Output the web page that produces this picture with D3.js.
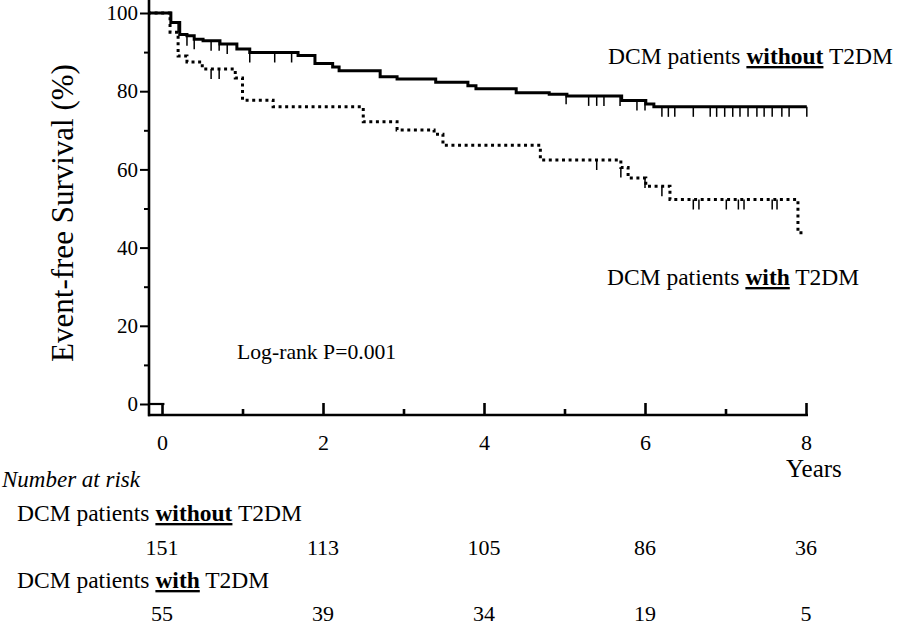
<!DOCTYPE html>
<html>
<head>
<meta charset="utf-8">
<script src="https://cdn.jsdelivr.net/npm/d3@7"></script>
<style>
  html, body { margin: 0; padding: 0; background: #fff; }
  svg { display: block; font-family: "Liberation Serif", "Times New Roman", serif; }
  text { fill: #000; }
</style>
</head>
<body>
<svg id="chart" width="898" height="628"></svg>
<script>
// ---------------- data ----------------
const yearTicks = [0, 2, 4, 6, 8];
const yearMinorTicks = [1, 3, 5, 7];
const survTicks = [0, 20, 40, 60, 80, 100];
const survMinorTicks = [10, 30, 50, 70, 90];

// DCM patients without T2DM (solid) : step times (years) and survival after the step (%)
const withoutTimes  = [0.11, 0.22, 0.31, 0.40, 0.51, 0.72, 0.93, 1.09, 1.69, 1.90, 2.12, 2.20, 2.71, 2.92, 3.40, 3.80, 3.90, 4.40, 4.81, 5.03, 5.71, 6.01, 6.11];
const withoutValues = [97.6, 94.5, 94.2, 93.3, 92.9, 92.1, 90.8, 89.9, 89.1, 87.1, 86.2, 85.2, 83.7, 83.1, 82.3, 81.4, 80.6, 79.6, 79.2, 78.8, 77.6, 76.7, 76.0];
const withoutEnd = 8.01;
const withoutCensored = [0.20, 0.31, 0.40, 0.61, 0.71, 0.81, 1.09, 1.40, 1.61, 5.02, 5.30, 5.40, 5.49, 5.69, 5.90, 6.00, 6.21, 6.29, 6.37, 6.60, 6.81, 6.89, 6.99, 7.09, 7.18, 7.28, 7.39, 7.48, 7.58, 7.70, 7.79, 8.01];

// DCM patients with T2DM (dotted)
const withTimes  = [0.10, 0.20, 0.31, 0.50, 0.91, 1.00, 1.38, 2.50, 2.92, 3.38, 3.49, 4.70, 5.70, 5.79, 6.01, 6.31, 7.90];
const withValues = [95.1, 89.0, 87.5, 85.7, 83.4, 77.7, 76.0, 72.2, 70.1, 69.0, 66.2, 62.4, 60.5, 57.8, 55.7, 52.3, 43.8];
const withEnd = 7.98;
const withCensored = [0.61, 0.71, 5.40, 5.70, 6.00, 6.21, 6.60, 6.67, 7.01, 7.16, 7.23, 7.58, 7.64];

// numbers at risk
const riskYears = [0, 2, 4, 6, 8];
const riskWithout = [151, 113, 105, 86, 36];
const riskWith = [55, 39, 34, 19, 5];

// ---------------- drawing ----------------
const svg = d3.select("#chart");
const x = d3.scaleLinear().domain([-0.174, 8]).range([148, 806]);
const y = d3.scaleLinear().domain([0, 100]).range([404, 13]);
const axisY = 415;

function buildSeries(times, values, end) {
  const pts = [{t: x.domain()[0], v: 100}];
  times.forEach((t, i) => pts.push({t: t, v: values[i]}));
  pts.push({t: end, v: values[values.length - 1]});
  return pts;
}
function valueAt(times, values, t) {
  let v = 100;
  for (let i = 0; i < times.length; i++) { if (times[i] <= t + 1e-9) v = values[i]; }
  return v;
}

const line = d3.line().x(d => x(d.t)).y(d => y(d.v)).curve(d3.curveStepAfter);

// axes lines
svg.append("line").attr("x1", 149).attr("x2", 149).attr("y1", 0).attr("y2", axisY + 1.2)
  .attr("stroke", "#000").attr("stroke-width", 2.6);
svg.append("line").attr("x1", 148).attr("x2", x(8) + 2).attr("y1", axisY).attr("y2", axisY)
  .attr("stroke", "#000").attr("stroke-width", 2.6);

// y axis ticks
const yAxis = svg.append("g").attr("transform", "translate(149,0)")
  .call(d3.axisLeft(y).tickValues(survTicks).tickSize(9).tickPadding(2).tickFormat(d3.format("d")));
const yMinor = svg.append("g").attr("transform", "translate(149,0)")
  .call(d3.axisLeft(y).tickValues(survMinorTicks).tickSize(5).tickFormat(""));
[yAxis, yMinor].forEach(g => { g.select(".domain").remove(); g.selectAll("line").attr("stroke", "#000").attr("stroke-width", 2); });
yAxis.selectAll("text").attr("font-size", 21).attr("font-family", "Liberation Serif").attr("fill", "#000");

// zero line stub
svg.append("line").attr("x1", 149).attr("x2", x(0.03)).attr("y1", y(0)).attr("y2", y(0))
  .attr("stroke", "#000").attr("stroke-width", 2.2);

// x axis ticks (pointing up)
const xAxis = svg.append("g").attr("transform", `translate(0,${axisY})`)
  .call(d3.axisBottom(x).tickValues(yearTicks).tickSizeInner(-12).tickSizeOuter(0).tickPadding(19).tickFormat(d3.format("d")));
const xMinor = svg.append("g").attr("transform", `translate(0,${axisY})`)
  .call(d3.axisBottom(x).tickValues(yearMinorTicks).tickSizeInner(-6).tickSizeOuter(0).tickFormat(""));
[xAxis, xMinor].forEach(g => { g.select(".domain").remove(); g.selectAll("line").attr("stroke", "#000").attr("stroke-width", 2.6); });
xAxis.selectAll("text").attr("font-size", 22).attr("font-family", "Liberation Serif").attr("fill", "#000");

// curves
const sWithout = buildSeries(withoutTimes, withoutValues, withoutEnd);
const sWith = buildSeries(withTimes, withValues, withEnd);

svg.append("path").datum(sWith).attr("d", line).attr("fill", "none")
  .attr("stroke", "#000").attr("stroke-width", 3).attr("stroke-dasharray", "3,3.6");
svg.append("path").datum(sWithout).attr("d", line).attr("fill", "none")
  .attr("stroke", "#000").attr("stroke-width", 3);

// censor marks
function drawCensor(list, times, values) {
  svg.append("g").selectAll("line").data(list).join("line")
    .attr("x1", d => x(d)).attr("x2", d => x(d))
    .attr("y1", d => y(valueAt(times, values, d)))
    .attr("y2", d => y(valueAt(times, values, d)) + 10)
    .attr("stroke", "#000").attr("stroke-width", 1.5);
}
drawCensor(withoutCensored, withoutTimes, withoutValues);
drawCensor(withCensored, withTimes, withValues);

// y title
svg.append("text").attr("transform", "translate(73,213) rotate(-90)")
  .attr("text-anchor", "middle").attr("font-size", 31).text("Event-free Survival (%)");

// labels
function groupLabel(xp, yp, size, bold) {
  const t = svg.append("text").attr("x", xp).attr("y", yp).attr("font-size", size);
  t.append("tspan").text("DCM patients ");
  t.append("tspan").attr("font-weight", "bold").style("text-decoration", "underline").text(bold);
  t.append("tspan").text(" T2DM");
  return t;
}
groupLabel(608, 64, 23.5, "without");
groupLabel(607, 285, 23.5, "with");
svg.append("text").attr("x", 237).attr("y", 359).attr("font-size", 21.7).text("Log-rank P=0.001");

svg.append("text").attr("x", 786).attr("y", 477).attr("font-size", 25).text("Years");

// number at risk table
svg.append("text").attr("x", 2).attr("y", 487).attr("font-size", 23).attr("font-style", "italic").text("Number at risk");
groupLabel(17, 521, 23.5, "without");
svg.append("g").selectAll("text").data(riskWithout).join("text")
  .attr("x", (d, i) => x(riskYears[i])).attr("y", 555).attr("text-anchor", "middle")
  .attr("font-size", 22).text(d => d);
groupLabel(17, 588, 23.5, "with");
svg.append("g").selectAll("text").data(riskWith).join("text")
  .attr("x", (d, i) => x(riskYears[i])).attr("y", 621).attr("text-anchor", "middle")
  .attr("font-size", 22).text(d => d);
</script>
</body>
</html>
